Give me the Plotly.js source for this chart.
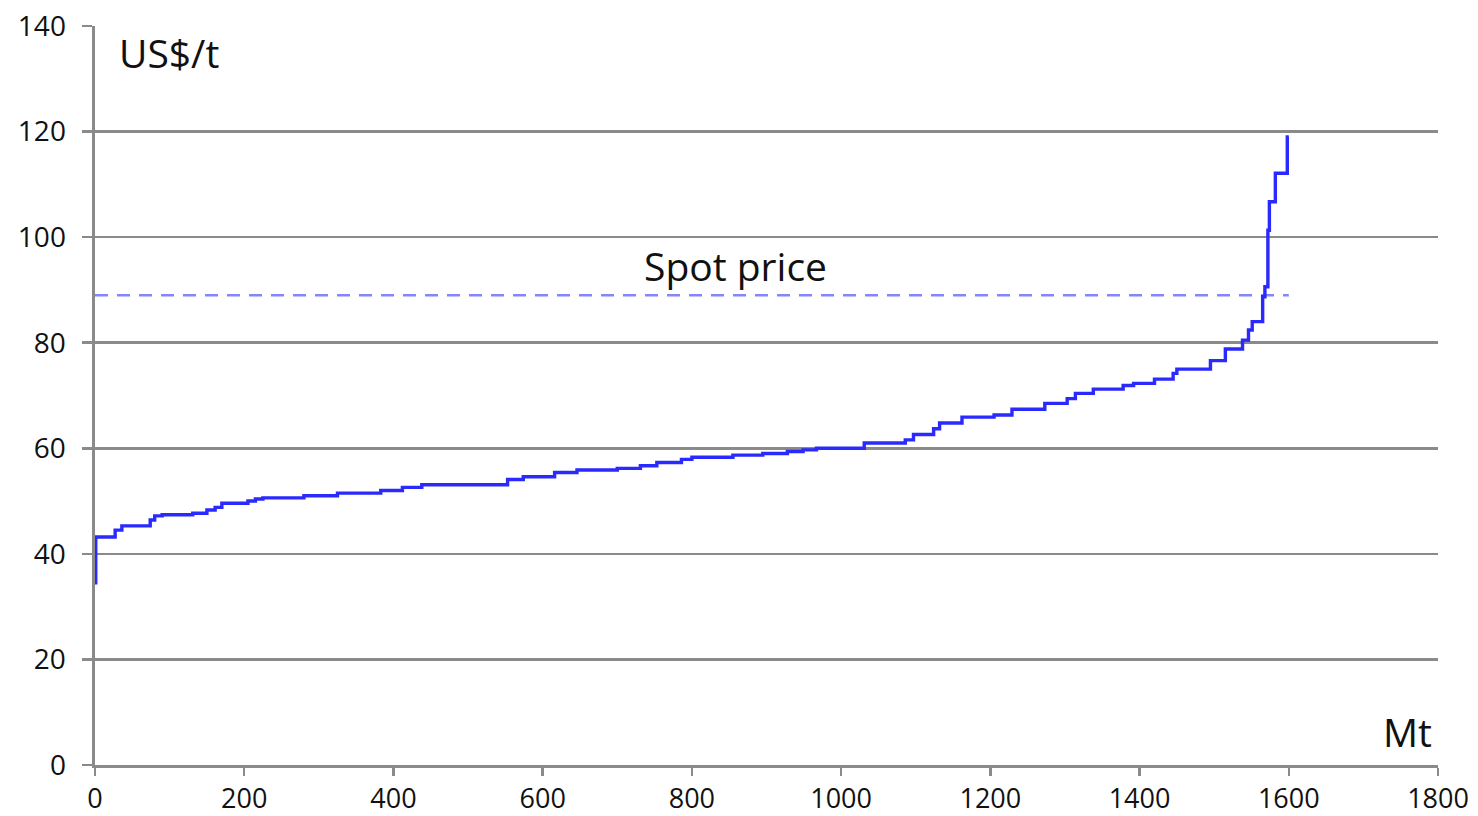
<!DOCTYPE html>
<html>
<head>
<meta charset="utf-8">
<script src="https://cdn.plot.ly/plotly-3.0.1.min.js"></script>
<style>html,body{margin:0;padding:0;background:#fff;}#chart{width:1478px;height:816px;}</style>
</head>
<body>
<div id="chart"></div>
<script>
// Cumulative supply (Mt) at the start of each cost step
const supplyMt = [0, 1, 27, 36, 74, 80, 90, 131, 150, 161, 170, 205, 215, 225, 280, 325, 383, 412, 438, 553, 574, 616, 646, 700, 731, 753, 786, 800, 855, 895, 928, 949, 967, 1031, 1086, 1097, 1124, 1132, 1162, 1205, 1229, 1273, 1303, 1314, 1338, 1378, 1392, 1420, 1445, 1450, 1495, 1515, 1538, 1546, 1551, 1565, 1568, 1572, 1574, 1582, 1598, 1600];
// Cash cost (US$/t) of each step
const costUsd = [34.5, 43.2, 44.5, 45.3, 46.4, 47.2, 47.4, 47.7, 48.3, 48.8, 49.6, 50.0, 50.4, 50.6, 51.0, 51.5, 52.0, 52.6, 53.1, 54.1, 54.6, 55.4, 55.9, 56.2, 56.7, 57.3, 57.9, 58.3, 58.7, 59.0, 59.4, 59.7, 60.0, 61.0, 61.6, 62.6, 63.7, 64.8, 65.9, 66.3, 67.4, 68.5, 69.4, 70.4, 71.2, 71.9, 72.3, 73.1, 74.2, 75.0, 76.6, 78.8, 80.5, 82.4, 84.0, 88.7, 90.6, 101.3, 106.7, 112.1, 119.0, 119.0];
// Spot price line
const spotX = [0, 1600];
const spotY = [89, 89];
const spotLabel = "Spot price";
const yUnit = "US$/t";
const xUnit = "Mt";
const xTicks = [0, 200, 400, 600, 800, 1000, 1200, 1400, 1600, 1800];
const yTicks = [0, 20, 40, 60, 80, 100, 120, 140];

const font = "Open Sans, Noto Sans, sans-serif";
const traces = [
  {x: spotX, y: spotY, mode: "lines", line: {color: "#8585ff", width: 2.5, dash: "13px,9px"}, hoverinfo: "skip"},
  {x: supplyMt, y: costUsd, mode: "lines", line: {color: "#2a2aff", width: 3.4, shape: "hv"}}
];
const layout = {
  width: 1478, height: 816,
  margin: {l: 95, r: 40, t: 26, b: 51},
  paper_bgcolor: "#fff", plot_bgcolor: "#fff",
  showlegend: false,
  font: {family: font, size: 28, color: "#111"},
  xaxis: {range: [0, 1800], tickvals: xTicks, ticktext: xTicks.map(String), showgrid: false, zeroline: false,
    showline: true, linecolor: "#8a8a8a", linewidth: 3, ticks: "outside", ticklen: 8, tickwidth: 2.5, tickcolor: "#8a8a8a",
    tickfont: {size: 27, family: font, color: "#111"}},
  yaxis: {range: [0, 140], tickvals: yTicks, ticktext: yTicks.map(String), showgrid: true, gridcolor: "#8a8a8a", gridwidth: 2.5,
    zeroline: false, showline: true, linecolor: "#8a8a8a", linewidth: 3.5, ticks: "outside", ticklen: 10, tickwidth: 2.5, tickcolor: "#8a8a8a",
    ticklabelstandoff: 10, tickfont: {size: 28, family: font, color: "#111"}},
  annotations: [
    {x: 30, y: 135, xref: "x", yref: "y", text: yUnit, showarrow: false, xanchor: "left", yanchor: "middle", font: {size: 39, family: font, color: "#111"}},
    {x: 1795, y: 6.3, xref: "x", yref: "y", text: xUnit, showarrow: false, xanchor: "right", yanchor: "middle", font: {size: 39, family: font, color: "#111"}},
    {x: 858, y: 94.7, xref: "x", yref: "y", text: spotLabel, showarrow: false, xanchor: "center", yanchor: "middle", font: {size: 39, family: font, color: "#111"}}
  ]
};
Plotly.newPlot("chart", traces, layout, {displayModeBar: false, staticPlot: true});
</script>
</body>
</html>
